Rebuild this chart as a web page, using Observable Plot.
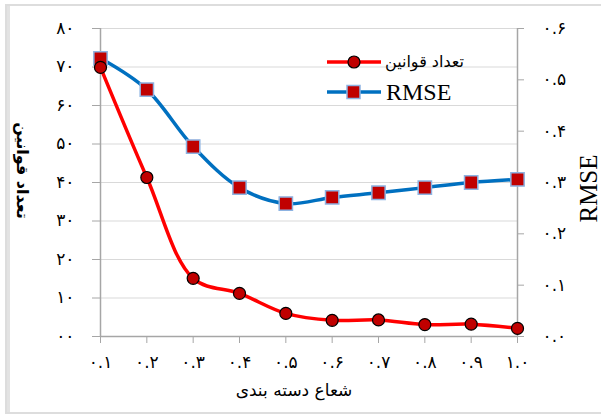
<!DOCTYPE html>
<html><head><meta charset="utf-8">
<script src="https://cdn.jsdelivr.net/npm/d3@7"></script>
<script src="https://cdn.jsdelivr.net/npm/@observablehq/plot@0.6"></script>
<style>body{margin:0;background:#fff}#chart svg{display:block}</style>
</head><body><div id="chart"></div><script>
const radius = [0.1,0.2,0.3,0.4,0.5,0.6,0.7,0.8,0.9,1.0];
const ruleCount = [69.9,41.3,15.1,11.2,6.0,4.2,4.3,3.1,3.2,2.1];
const rmse = [0.542,0.481,0.370,0.290,0.259,0.271,0.280,0.290,0.300,0.306];
const xLabels = ["۰.۱","۰.۲","۰.۳","۰.۴","۰.۵","۰.۶","۰.۷","۰.۸","۰.۹","۱.۰"];
const leftTicks = [0,10,20,30,40,50,60,70,80];
const leftLabels = ["۰۰","۱۰","۲۰","۳۰","۴۰","۵۰","۶۰","۷۰","۸۰"];
const rightTicks = [0,0.1,0.2,0.3,0.4,0.5,0.6];
const rightLabels = ["۰.۰","۰.۱","۰.۲","۰.۳","۰.۴","۰.۵","۰.۶"];
const seriesNames = ["تعداد قوانین","RMSE"];
const xTitle = "شعاع دسته بندی";

const leftMax = 80, rightMax = 0.6;
const toLeft = v => v * leftMax / rightMax;
const rows = radius.map((r,i)=>({r, count: ruleCount[i], rmse: rmse[i], rmseL: toLeft(rmse[i])}));

const AX = "#A6A6A6";
const arabicFont = "DejaVu Sans";
const chart = Plot.plot({
  width: 601, height: 416,
  marginLeft: 100, marginRight: 84, marginTop: 28, marginBottom: 80,
  style: {fontFamily: arabicFont, background: "#fff", color: "#000"},
  x: {domain: [0.1, 1.0]},
  y: {domain: [0, leftMax]},
  marks: [
    Plot.gridY(leftTicks, {stroke: "#D9D9D9", strokeOpacity: 1, strokeWidth: 1}),
    Plot.axisY(leftTicks, {anchor: "left", tickSize: 8, tickPadding: 18, stroke: AX, fontSize: 17,
      tickFormat: d => leftLabels[leftTicks.indexOf(d)], label: null}),
    Plot.axisY(rightTicks.map(toLeft), {anchor: "right", tickSize: 6, tickPadding: 19, stroke: AX, fontSize: 17, textAnchor: "start",
      tickFormat: d => rightLabels[Math.round(d * 6 / leftMax)], label: null}),
    Plot.axisX(radius, {anchor: "bottom", tickSize: 7, tickPadding: 12, stroke: AX, fontSize: 17,
      tickFormat: d => xLabels[Math.round(d * 10) - 1], label: null}),
    Plot.ruleX([0.1], {stroke: AX, strokeWidth: 1.5}),
    Plot.ruleX([1.0], {stroke: AX, strokeWidth: 1.5}),
    Plot.ruleY([0], {stroke: AX, strokeWidth: 1.5}),
    Plot.line(rows, {x: "r", y: "rmseL", stroke: "#0070C0", strokeWidth: 3.5, curve: "catmull-rom"}),
    Plot.dot(rows, {x: "r", y: "rmseL", symbol: "square", r: 7.5, fill: "#C00000", stroke: "#8DB3E2", strokeWidth: 1.5}),
    Plot.line(rows, {x: "r", y: "count", stroke: "#FF0000", strokeWidth: 3.5, curve: "catmull-rom"}),
    Plot.dot(rows, {x: "r", y: "count", r: 6, fill: "#C00000", stroke: "#000", strokeWidth: 1.2}),
    Plot.text([xTitle], {frameAnchor: "bottom", dy: 59, dx: -15, fontSize: 17, fill: "#000"}),
    Plot.text([seriesNames[0]], {frameAnchor: "left", textAnchor: "middle", dx: -78, dy: -12, rotate: 90, fontSize: 16, fontWeight: "bold", fill: "#000"}),
    Plot.text([seriesNames[1]], {frameAnchor: "right", textAnchor: "middle", dx: 71, dy: 6, rotate: -90, fontSize: 25, fontFamily: "Liberation Serif", fill: "#000"})
  ]
});

const svg = d3.select(chart);
// outer border
svg.insert("rect", ":first-child").attr("x", 6).attr("y", 5).attr("width", 602).attr("height", 408)
  .attr("fill", "none").attr("stroke", "#DDDDDD").attr("stroke-width", 2);
svg.insert("rect", ":first-child").attr("x", 5).attr("y", 5).attr("width", 5).attr("height", 408).attr("fill", "#E3E3E3");
// legend
const lg = svg.append("g");
const items = [
  {name: seriesNames[0], y: 62, color: "#FF0000", sym: "circle"},
  {name: seriesNames[1], y: 92, color: "#0070C0", sym: "square"}
];
items.forEach(it => {
  lg.append("line").attr("x1", 327).attr("x2", 381).attr("y1", it.y).attr("y2", it.y)
    .attr("stroke", it.color).attr("stroke-width", 3.5);
  if (it.sym === "circle") {
    lg.append("circle").attr("cx", 354).attr("cy", it.y).attr("r", 6).attr("fill", "#C00000").attr("stroke", "#000").attr("stroke-width", 1.2);
    lg.append("text").attr("x", 464).attr("y", it.y).attr("dy", "0.32em").attr("text-anchor", "end")
      .attr("font-family", arabicFont).attr("font-size", 16).text(it.name);
  } else {
    lg.append("rect").attr("x", 347).attr("y", it.y - 6.5).attr("width", 13).attr("height", 13).attr("fill", "#C00000").attr("stroke", "#8DB3E2").attr("stroke-width", 1.5);
    lg.append("text").attr("x", 386).attr("y", it.y).attr("dy", "0.35em").attr("text-anchor", "start")
      .attr("font-family", "Liberation Serif").attr("font-size", 24).text(it.name);
  }
});
document.getElementById("chart").appendChild(chart);
</script></body></html>
